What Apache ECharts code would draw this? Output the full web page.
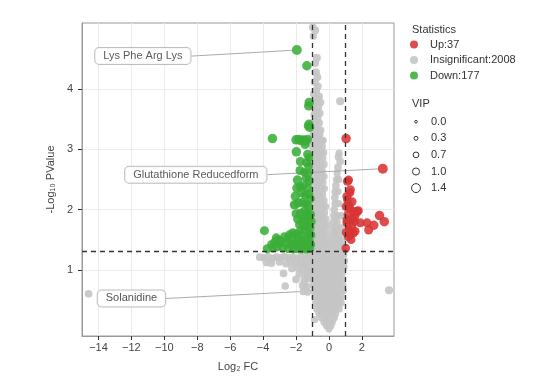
<!DOCTYPE html>
<html><head><meta charset="utf-8">
<script src="https://cdn.jsdelivr.net/npm/echarts@6/dist/echarts.min.js"></script>
<style>html,body{margin:0;padding:0;background:#fff}#c{width:553px;height:391px}</style>
</head><body><div id="c"></div><script>
const FONT = '"Liberation Sans", Arial, Helvetica, sans-serif';
const xTicks = [-14,-12,-10,-8,-6,-4,-2,0,2];
const yTicks = [1,2,3,4];
const fcCut = [-1, 1];
const pCut = 1.3;
const groupNames = ['Up:37','Insignificant:2008','Down:177'];
const vipLegend = [0.0,0.3,0.7,1.0,1.4];
// [log2FC, -log10 P, VIP]; first item of each list carries an annotation
const upPoints = [
[3.27,2.68,1.5],
[1.04,3.18,1.4],[1.12,2.47,1.3],[1.19,2.49,1.3],[1.3,2.33,1.3],[1.28,2.28,1.2],
[1.09,2.22,1.3],[1.12,2.16,1.2],[1.4,2.13,1.3],[1.04,2.05,1.3],[1.28,2.02,1.2],[1.2,2.08,1.3],
[1.7,1.97,1.4],[1.78,1.98,1.3],[1.48,1.97,1.3],[3.07,1.9,1.4],[3.36,1.8,1.4],[2.31,1.78,1.3],
[2.72,1.74,1.4],[2.41,1.66,1.3],[1.9,1.78,1.3],[1.09,1.83,1.3],[1.28,1.83,1.2],[1.38,1.72,1.3],
[1.08,1.78,1.2],[1.48,1.61,1.3],[1.6,1.64,1.2],[1.18,1.55,1.3],[1.3,1.58,1.2],[1.02,1.36,1.2],
[1.15,1.92,1.2],[1.45,1.85,1.2],[1.22,1.68,1.2],[1.55,1.8,1.3],[1.35,1.5,1.2],[1.05,1.62,1.3],[1.6,1.9,1.2]
];
const downPoints = [
[-1.95,4.65,1.5],
[-1.34,4.39,1.4],[-1.2,3.78,1.4],[-1.24,3.72,1.3],[-1.22,3.42,1.3],[-1.18,3.37,1.4],[-1.27,3.39,1.2],
[-3.43,3.18,1.4],[-2.0,3.16,1.4],[-1.85,3.17,1.3],[-1.7,3.15,1.5],[-1.55,3.16,1.3],[-1.4,3.14,1.4],[-1.3,3.17,1.3],
[-1.45,3.08,1.3],[-1.98,2.96,1.4],[-1.3,2.92,1.3],[-1.22,2.86,1.2],
[-1.74,2.8,1.3],[-1.35,2.78,1.3],[-1.24,2.72,1.2],
[-1.76,2.65,1.3],[-1.5,2.62,1.2],[-1.28,2.6,1.3],
[-1.91,2.49,1.4],[-1.4,2.52,1.2],[-1.2,2.48,1.3],
[-1.74,2.38,1.3],[-1.96,2.36,1.3],[-1.55,2.4,1.2],[-1.3,2.36,1.3],
[-2.04,2.22,1.4],[-1.65,2.28,1.3],[-1.45,2.24,1.2],[-1.22,2.26,1.3],[-1.12,2.18,1.2],
[-2.08,2.08,1.4],[-1.85,2.11,1.3],[-1.6,2.12,1.3],[-1.4,2.1,1.2],[-1.25,2.05,1.3],
[-1.74,1.94,1.3],[-2.0,1.93,1.3],[-1.5,1.98,1.2],[-1.3,1.95,1.2],[-1.12,1.92,1.3],
[-1.9,1.84,1.3],[-1.62,1.86,1.2],[-1.4,1.83,1.3],[-1.2,1.85,1.2],[-1.08,1.8,1.3],
[-3.92,1.65,1.3],
[-1.8,1.75,1.2],[-1.55,1.74,1.3],[-1.35,1.72,1.2],[-1.15,1.7,1.3],
[-2.4,1.58,1.3],[-2.2,1.62,1.2],[-2.0,1.6,1.3],[-1.75,1.64,1.2],[-1.5,1.62,1.3],[-1.25,1.6,1.2],[-1.1,1.58,1.3],
[-3.2,1.53,1.3],[-3.1,1.5,1.2],[-2.2,1.5,1.3],[-2.5,1.52,1.2],[-1.9,1.52,1.3],[-1.65,1.5,1.2],[-1.4,1.5,1.3],[-1.18,1.48,1.2],
[-3.0,1.44,1.3],[-2.6,1.44,1.2],[-2.3,1.42,1.3],[-2.05,1.43,1.2],[-1.8,1.42,1.3],[-1.55,1.42,1.2],[-1.3,1.4,1.3],[-1.1,1.42,1.2],
[-3.75,1.35,1.3],[-3.4,1.36,1.2],[-3.15,1.38,1.3],[-2.8,1.36,1.2],[-2.45,1.35,1.3],[-2.15,1.34,1.2],[-1.9,1.35,1.3],[-1.65,1.34,1.2],[-1.4,1.34,1.3],[-1.15,1.35,1.2],
[-3.5,1.42,1.2],[-3.3,1.46,1.2],[-2.7,1.55,1.3],[-2.9,1.48,1.2]
];
const insigPoints = [
[-1.55,0.64,1.0],
[-14.6,0.60,1.0],[3.65,0.66,1.1],[0.68,3.80,1.1],[0.58,2.88,1.0],[0.68,2.80,1.0],[0.62,2.94,0.9],[-2.16,2.08,1.0],
[-0.98,5.03,1.0],[-0.84,4.98,1.1],[-0.95,4.88,0.9],[-0.74,4.52,1.1],[-0.84,4.43,1.0],[-0.8,4.28,1.1],[-0.7,4.2,1.0],
[-0.86,4.12,1.1],[-0.66,4.05,0.9],[-0.78,3.98,1.1],[-0.92,3.92,1.0],[-0.6,3.88,1.0],[-0.72,3.84,1.1],[-0.84,3.78,1.1],
[-0.5,3.78,0.9],[-0.96,3.72,1.0],[-0.66,3.7,1.1],[-0.78,3.64,1.1],[-0.9,3.58,1.0],[-0.56,3.6,1.0],[-0.7,3.52,1.1],
[-0.84,3.46,1.1],[-0.98,3.44,1.0],[-0.6,3.44,1.0],[-0.74,3.38,1.1],[-0.88,3.32,1.1],[-0.5,3.32,0.9],[-0.64,3.28,1.0],
[-0.95,3.25,1.0],[-0.75,3.25,1.1],[-0.55,3.25,0.9],
[-0.9,3.15,1.1],[-0.7,3.15,1.0],[-0.5,3.15,1.1],[-0.35,3.15,0.9],
[-1.0,3.05,1.0],[-0.8,3.05,1.1],[-0.6,3.05,1.0],[-0.4,3.05,0.9],
[-0.92,2.95,1.1],[-0.72,2.95,1.0],[-0.52,2.95,1.1],[-0.32,2.95,0.9],
[-1.0,2.85,1.0],[-0.8,2.85,1.1],[-0.6,2.85,1.0],[-0.4,2.85,1.1],
[-0.95,2.75,1.1],[-0.75,2.75,1.0],[-0.55,2.75,1.1],[-0.3,2.75,0.9],
[-1.02,2.65,1.0],[-0.82,2.65,1.1],[-0.62,2.65,1.0],[-0.42,2.65,1.0],
[-0.9,2.55,1.1],[-0.7,2.55,1.0],[-0.5,2.55,1.1],[-0.3,2.55,0.9],
[-1.0,2.45,1.0],[-0.8,2.45,1.1],[-0.6,2.45,1.0],[-0.38,2.45,1.0],
[-0.92,2.35,1.1],[-0.72,2.35,1.0],[-0.52,2.35,1.1],[-0.28,2.35,0.9],
[-1.0,2.25,1.0],[-0.82,2.25,1.1],[-0.62,2.25,1.0],[-0.4,2.25,1.0],
[-0.94,2.15,1.1],[-0.74,2.15,1.0],[-0.54,2.15,1.1],[-0.3,2.15,0.9],
[-1.02,2.05,1.0],[-0.82,2.05,1.1],[-0.6,2.05,1.0],[-0.38,2.05,1.0],[-0.2,2.05,0.9],
[-0.92,1.95,1.1],[-0.72,1.95,1.0],[-0.5,1.95,1.1],[-0.28,1.95,1.0],
[-1.0,1.85,1.0],[-0.8,1.85,1.1],[-0.6,1.85,1.0],[-0.4,1.85,1.1],[-0.2,1.85,0.9],
[-0.9,1.75,1.1],[-0.7,1.75,1.0],[-0.5,1.75,1.1],[-0.3,1.75,1.0],[-0.12,1.75,0.9],
[-1.0,1.65,1.0],[-0.8,1.65,1.1],[-0.6,1.65,1.0],[-0.4,1.65,1.1],[-0.2,1.65,1.0],
[-0.92,1.55,1.1],[-0.72,1.55,1.0],[-0.52,1.55,1.1],[-0.32,1.55,1.0],[-0.12,1.55,0.9],
[-1.02,1.45,1.0],[-0.82,1.45,1.1],[-0.62,1.45,1.0],[-0.42,1.45,1.1],[-0.22,1.45,1.0],[-0.05,1.45,0.9],
[-0.94,1.35,1.1],[-0.74,1.35,1.0],[-0.54,1.35,1.1],[-0.34,1.35,1.0],[-0.14,1.35,0.9],
[0.55,2.7,1.0],[0.5,2.6,0.9],[0.58,2.5,1.0],[0.45,2.5,0.9],[0.42,2.4,1.0],[0.38,2.3,1.0],[0.55,2.3,0.9],
[0.36,2.2,1.0],[0.38,2.1,1.0],[0.6,2.1,0.9],[0.32,2.0,1.0],[0.3,1.9,1.0],[0.55,1.9,0.9],[0.75,1.9,0.9],
[0.28,1.8,1.0],[0.5,1.8,0.9],[0.25,1.7,1.0],[0.45,1.7,1.0],[0.7,1.7,0.9],[0.22,1.6,1.0],[0.4,1.6,1.0],
[0.62,1.6,0.9],[0.2,1.5,1.0],[0.4,1.5,1.0],[0.6,1.5,1.0],[0.8,1.5,0.9],[0.18,1.4,1.0],[0.38,1.4,1.0],
[0.58,1.4,1.0],[0.78,1.4,0.9],[0.2,1.32,1.0],[0.45,1.32,1.0],[0.7,1.32,1.0],[0.9,1.32,0.9],
[-1.1,1.25,1.0],[-0.9,1.25,1.1],[-0.7,1.25,1.0],[-0.5,1.25,1.1],[-0.3,1.25,1.0],[-0.1,1.25,0.9],[0.1,1.25,0.9],[0.3,1.25,1.0],[0.5,1.25,1.0],[0.7,1.25,1.0],[0.9,1.25,0.9],
[-1.0,1.15,1.0],[-0.8,1.15,1.1],[-0.6,1.15,1.0],[-0.4,1.15,1.0],[-0.2,1.15,1.0],[0.0,1.15,0.9],[0.2,1.15,1.0],[0.4,1.15,1.0],[0.6,1.15,1.0],[0.8,1.15,0.9],[0.95,1.15,0.9],
[-1.05,1.05,1.0],[-0.85,1.05,1.0],[-0.65,1.05,1.1],[-0.45,1.05,1.0],[-0.25,1.05,1.0],[-0.05,1.05,0.9],[0.15,1.05,1.0],[0.35,1.05,1.0],[0.55,1.05,1.0],[0.75,1.05,0.9],[0.92,1.05,0.9],
[-0.98,0.95,1.0],[-0.78,0.95,1.0],[-0.58,0.95,1.0],[-0.38,0.95,1.0],[-0.18,0.95,1.0],[0.02,0.95,0.9],[0.22,0.95,1.0],[0.42,0.95,1.0],[0.62,0.95,1.0],[0.82,0.95,0.9],
[-1.0,0.85,1.0],[-0.8,0.85,1.0],[-0.6,0.85,1.0],[-0.4,0.85,1.0],[-0.2,0.85,1.0],[0.0,0.85,0.9],[0.2,0.85,1.0],[0.4,0.85,1.0],[0.6,0.85,1.0],[0.8,0.85,0.9],
[-0.95,0.75,1.0],[-0.75,0.75,1.0],[-0.55,0.75,1.0],[-0.35,0.75,1.0],[-0.15,0.75,0.9],[0.05,0.75,0.9],[0.25,0.75,1.0],[0.45,0.75,1.0],[0.65,0.75,1.0],[0.85,0.75,0.9],
[-0.9,0.65,1.0],[-0.7,0.65,1.0],[-0.5,0.65,1.0],[-0.3,0.65,1.0],[-0.1,0.65,0.9],[0.1,0.65,0.9],[0.3,0.65,1.0],[0.5,0.65,1.0],[0.7,0.65,1.0],[0.88,0.65,0.9],
[-0.85,0.55,1.0],[-0.65,0.55,1.0],[-0.45,0.55,1.0],[-0.25,0.55,0.9],[-0.05,0.55,0.9],[0.15,0.55,0.9],[0.35,0.55,1.0],[0.55,0.55,1.0],[0.75,0.55,0.9],
[-0.8,0.45,1.0],[-0.6,0.45,1.0],[-0.4,0.45,0.9],[-0.2,0.45,0.9],[0.0,0.45,0.9],[0.2,0.45,0.9],[0.4,0.45,1.0],[0.6,0.45,1.0],[0.75,0.45,0.9],
[-0.75,0.35,0.9],[-0.55,0.35,0.9],[-0.35,0.35,0.9],[-0.15,0.35,0.9],[0.05,0.35,0.9],[0.25,0.35,0.9],[0.45,0.35,0.9],[0.62,0.35,0.9],
[-0.6,0.27,0.9],[-0.4,0.27,0.9],[-0.2,0.27,0.9],[0.0,0.27,0.9],[0.2,0.27,0.9],[0.4,0.27,0.9],
[-0.87,0.17,0.9],[-0.45,0.2,0.9],[-0.25,0.2,0.9],[-0.05,0.2,0.9],[0.15,0.2,0.9],[0.32,0.2,0.9],
[-0.3,0.13,0.9],[-0.12,0.13,0.9],[0.05,0.13,0.9],[0.2,0.13,0.9],
[-0.15,0.07,0.9],[0.02,0.07,0.9],[0.12,0.07,0.9],[0.0,0.02,0.9],
[-4.2,1.21,1.0],[-3.95,1.2,1.0],[-3.7,1.22,1.0],[-3.45,1.19,1.0],[-3.2,1.21,1.0],[-2.95,1.2,1.0],[-2.7,1.22,1.0],
[-2.45,1.2,1.0],[-2.2,1.21,1.0],[-1.95,1.19,1.0],[-1.7,1.22,1.0],[-1.45,1.2,1.0],[-1.25,1.21,1.0],
[-3.8,1.12,1.0],[-3.5,1.11,1.0],[-3.0,1.13,1.0],[-2.6,1.1,1.0],[-2.3,1.12,1.0],[-2.0,1.11,1.0],[-1.75,1.12,1.0],[-1.5,1.1,1.0],[-1.3,1.12,1.0],
[-2.25,1.02,1.0],[-1.9,1.03,1.0],[-1.6,1.01,1.0],[-1.35,1.02,1.0],[-1.2,1.0,1.0],
[-2.76,0.94,1.0],[-1.8,0.93,1.0],[-1.45,0.94,1.0],[-1.25,0.92,1.0],
[-2.0,0.84,1.0],[-1.5,0.83,1.0],[-1.3,0.85,1.0],
[-2.66,0.73,1.0],[-1.6,0.74,1.0],[-1.35,0.72,1.0],[-1.3,0.63,1.0]
];
const annotations = ['Glutathione Reducedform', 'Lys Phe Arg Lys', 'Solanidine']; // first point of Up, Down, Insignificant lists

const sizeFor = v => 3.2 + 4.5 * v;
const labelOffsets = {
  'Lys Phe Arg Lys': [-154, 6],
  'Glutathione Reducedform': [-187, 6],
  'Solanidine': [-172, 7]
};
function toData(points, labelText) {
  return points.map((p, i) => {
    const item = { value: [p[0], p[1]], symbolSize: sizeFor(p[2]) };
    if (i === 0 && labelText) {
      item.name = labelText;
      item.label = {
        show: true, position: 'inside', formatter: labelText,
        backgroundColor: '#fff', borderColor: '#b5b5b5', borderWidth: 1, borderRadius: 4,
        padding: [3, 8, 2, 8], color: '#444', fontSize: 11, fontFamily: FONT
      };
      item.labelLine = { show: true, lineStyle: { color: '#aaa', width: 1 } };
    }
    return item;
  });
}
const chart = echarts.init(document.getElementById('c'), null, { renderer: 'canvas' });
const minusFmt = v => String(v).replace('-', '\u2212');
const labelLayout = params => {
  const o = labelOffsets[params.text];
  return o ? { dx: o[0], dy: o[1] } : {};
};
const option = {
  animation: false,
  grid: { left: 82, right: 159, top: 23, bottom: 55, show: true, borderColor: '#9a9a9a', borderWidth: 1, backgroundColor: 'transparent' },
  xAxis: {
    type: 'value', min: -15, max: 3.95,
    name: 'Log\u2082 FC', nameLocation: 'middle', nameGap: 25,
    nameTextStyle: { color: '#444', fontSize: 11, fontFamily: FONT },
    axisLine: { show: true, onZero: false, lineStyle: { color: '#9a9a9a' } },
    axisTick: { show: true, length: 4, customValues: xTicks, lineStyle: { color: '#333' } },
    axisLabel: { customValues: xTicks, formatter: minusFmt, color: '#444', fontSize: 11, margin: 6, fontFamily: FONT },
    splitLine: { show: true, lineStyle: { color: '#ebebeb' } }
  },
  yAxis: {
    type: 'value', min: -0.1, max: 5.1,
    name: '-Log\u2081\u2080 PValue', nameLocation: 'middle', nameGap: 25,
    nameTextStyle: { color: '#444', fontSize: 11, fontFamily: FONT },
    axisLine: { show: true, onZero: false, lineStyle: { color: '#9a9a9a' } },
    axisTick: { show: true, length: 4, customValues: yTicks, lineStyle: { color: '#333' } },
    axisLabel: { customValues: yTicks, color: '#444', fontSize: 11, margin: 9, fontFamily: FONT },
    splitLine: { show: true, lineStyle: { color: '#ebebeb' } }
  },
  legend: {
    orient: 'vertical', left: 405, top: 34, itemWidth: 22, itemHeight: 8, itemGap: 4.5,
    icon: 'circle', data: groupNames,
    textStyle: { color: '#333', fontSize: 11, fontFamily: FONT }
  },
  graphic: [
    { type: 'text', x: 412, y: 30, style: { text: 'Statistics', fill: '#333', font: '11px ' + FONT, verticalAlign: 'middle' } },
    { type: 'text', x: 412, y: 104, style: { text: 'VIP', fill: '#333', font: '11px ' + FONT, verticalAlign: 'middle' } }
  ].concat(vipLegend.flatMap((v, i) => {
    const cy = 121.7 + i * 16.6;
    return [
      { type: 'circle', shape: { cx: 416, cy: cy, r: sizeFor(v) / 2 - 0.3 }, style: { fill: 'none', stroke: '#333', lineWidth: 1 } },
      { type: 'text', x: 431, y: cy, style: { text: v.toFixed(1), fill: '#333', font: '11px ' + FONT, verticalAlign: 'middle' } }
    ];
  })),
  series: [
    { name: groupNames[0], type: 'scatter', data: toData(upPoints, annotations[0]),
      itemStyle: { color: '#d93434', opacity: 0.88 }, labelLayout: labelLayout, z: 3 },
    { name: groupNames[1], type: 'scatter', data: toData(insigPoints, annotations[2]),
      itemStyle: { color: '#c6c6c6', opacity: 0.92 }, labelLayout: labelLayout, z: 2 },
    { name: groupNames[2], type: 'scatter', data: toData(downPoints, annotations[1]),
      itemStyle: { color: '#3aae38', opacity: 0.88 }, labelLayout: labelLayout, z: 3,
      markLine: {
        silent: true, symbol: ['none', 'none'], label: { show: false },
        lineStyle: { type: [5, 4], color: '#333', width: 1.3 },
        data: fcCut.map(v => ({ xAxis: v })).concat([{ yAxis: pCut }])
      }
    }
  ]
};
chart.setOption(option);
</script></body></html>
